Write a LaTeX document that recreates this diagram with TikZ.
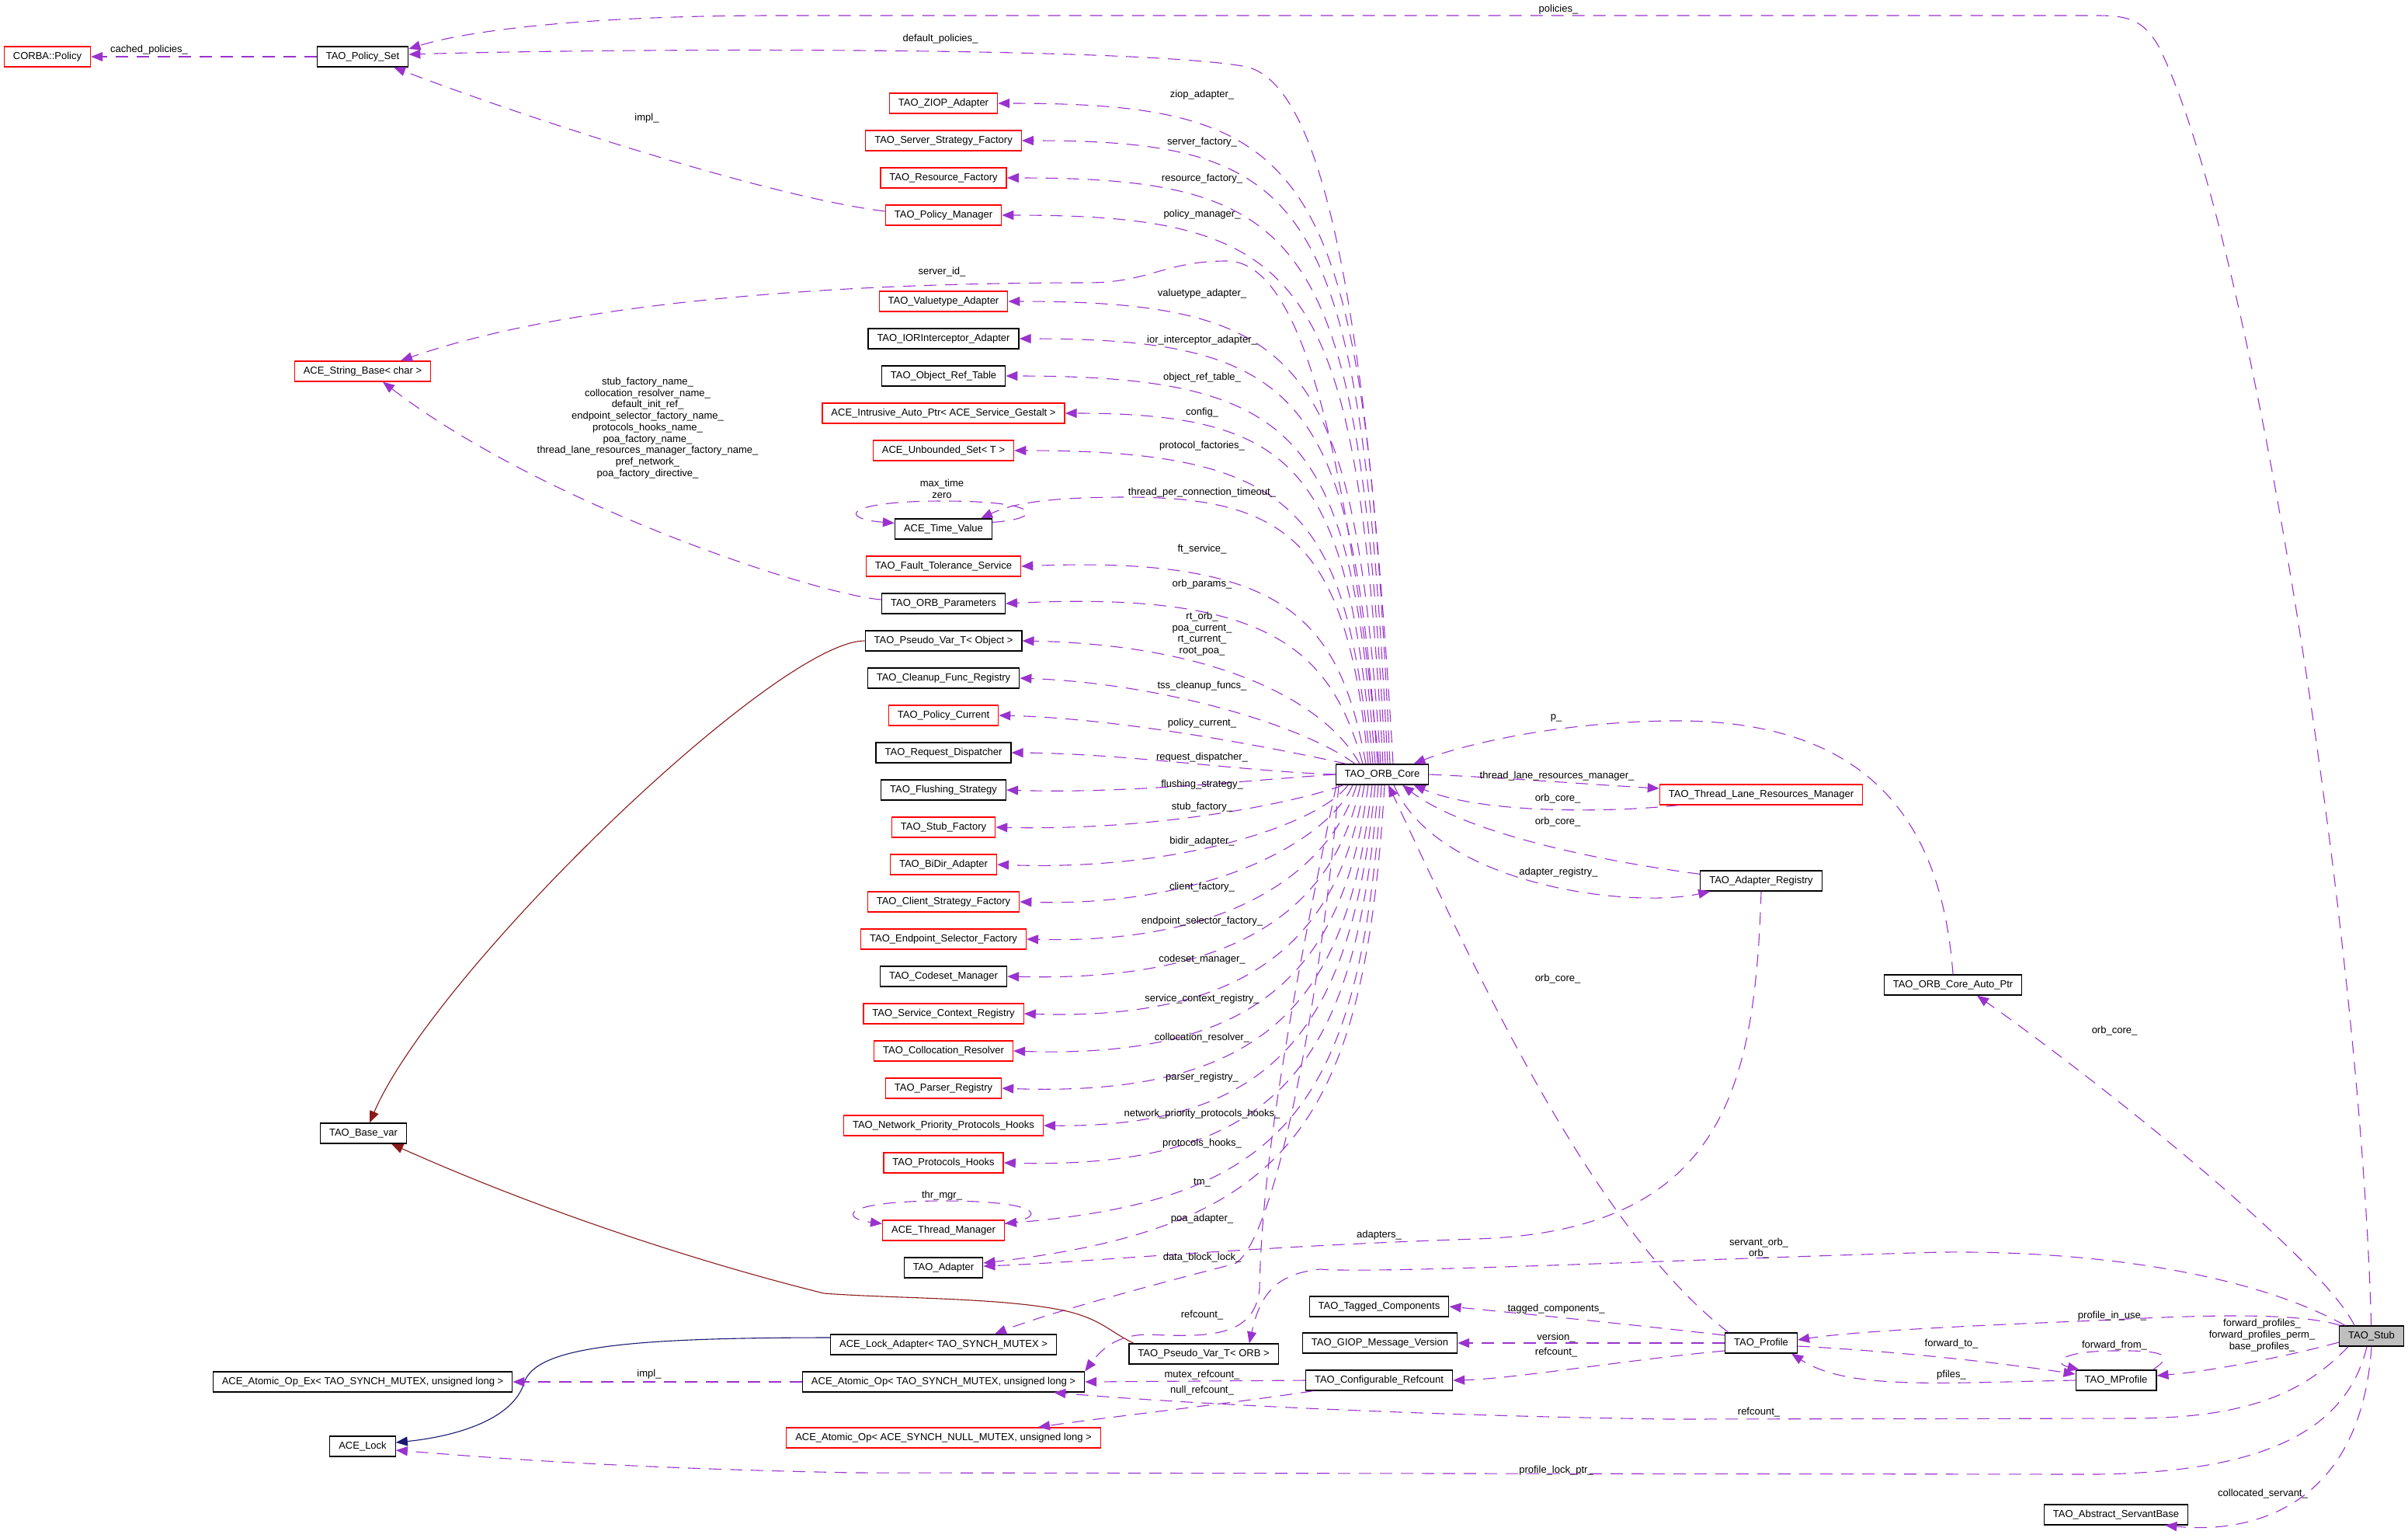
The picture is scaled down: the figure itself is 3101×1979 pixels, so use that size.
\documentclass[tikz,border=0pt]{standalone}
\usepackage{fontspec}
\setmainfont{Liberation Sans}
\usetikzlibrary{arrows.meta,calc}
\definecolor{pcol}{HTML}{9A32CD}
\definecolor{dred}{HTML}{8B1A1A}
\definecolor{dblue}{HTML}{191970}
\definecolor{stubgray}{HTML}{BFBFBF}
\newcommand\lab{\fontsize{13}{14.7}\selectfont}
\tikzset{
  box/.style={draw=black, line width=1.3pt, rectangle, minimum height=26pt, inner xsep=11.5pt, inner ysep=0pt, font=\lab},
  rbox/.style={box, draw=red},
  gbox/.style={box, fill=stubgray},
  use/.style={draw=pcol, line width=1.1pt, dash pattern=on 16pt off 11pt, -{Triangle[length=15pt,width=12pt,fill=pcol]}},
  inhr/.style={draw=dred, line width=1.1pt, -{Triangle[length=15pt,width=12pt,fill=dred]}},
  inhb/.style={draw=dblue, line width=1.1pt, -{Triangle[length=15pt,width=12pt,fill=dblue]}},
  lbl/.style={font=\lab, inner sep=0pt, align=center}
}
\begin{document}
\begin{tikzpicture}[x=1pt,y=-1pt]
\useasboundingbox (0,0) rectangle (3101,1979);
% ---------- nodes
\node[rbox] (cpol) at (61,73) {CORBA::Policy};
\node[box] (pset) at (467,73) {TAO\_Policy\_Set};
\node[rbox] (strb) at (467,478) {ACE\_String\_Base< char >};
\node[box] (bvar) at (468,1459) {TAO\_Base\_var};
\node[box] (aopex) at (467,1779) {ACE\_Atomic\_Op\_Ex< TAO\_SYNCH\_MUTEX, unsigned long >};
\node[box] (lock) at (467,1862) {ACE\_Lock};
\node[rbox] (ziop) at (1215,133) {TAO\_ZIOP\_Adapter};
\node[rbox] (ssf) at (1215,181) {TAO\_Server\_Strategy\_Factory};
\node[rbox] (resf) at (1215,229) {TAO\_Resource\_Factory};
\node[rbox] (pmgr) at (1215,277) {TAO\_Policy\_Manager};
\node[rbox] (vta) at (1215,388) {TAO\_Valuetype\_Adapter};
\node[box] (ior) at (1215,436) {TAO\_IORInterceptor\_Adapter};
\node[box] (ort) at (1215,484) {TAO\_Object\_Ref\_Table};
\node[rbox] (iap) at (1215,532) {ACE\_Intrusive\_Auto\_Ptr< ACE\_Service\_Gestalt >};
\node[rbox] (uset) at (1215,580) {ACE\_Unbounded\_Set< T >};
\node[box] (tv) at (1215,681) {ACE\_Time\_Value};
\node[rbox] (fts) at (1215,729) {TAO\_Fault\_Tolerance\_Service};
\node[box] (orbp) at (1215,777) {TAO\_ORB\_Parameters};
\node[box] (pvo) at (1215,825) {TAO\_Pseudo\_Var\_T< Object >};
\node[box] (cfr) at (1215,873) {TAO\_Cleanup\_Func\_Registry};
\node[rbox] (pcur) at (1215,921) {TAO\_Policy\_Current};
\node[box] (rdisp) at (1215,969) {TAO\_Request\_Dispatcher};
\node[box] (flush) at (1215,1017) {TAO\_Flushing\_Strategy};
\node[rbox] (stubf) at (1215,1065) {TAO\_Stub\_Factory};
\node[rbox] (bidir) at (1215,1113) {TAO\_BiDir\_Adapter};
\node[rbox] (csf) at (1215,1161) {TAO\_Client\_Strategy\_Factory};
\node[rbox] (esf) at (1215,1209) {TAO\_Endpoint\_Selector\_Factory};
\node[box] (codeset) at (1215,1257) {TAO\_Codeset\_Manager};
\node[rbox] (scr) at (1215,1305) {TAO\_Service\_Context\_Registry};
\node[rbox] (coll) at (1215,1353) {TAO\_Collocation\_Resolver};
\node[rbox] (parser) at (1215,1401) {TAO\_Parser\_Registry};
\node[rbox] (nph) at (1215,1449) {TAO\_Network\_Priority\_Protocols\_Hooks};
\node[rbox] (ph) at (1215,1497) {TAO\_Protocols\_Hooks};
\node[rbox] (thm) at (1215,1584) {ACE\_Thread\_Manager};
\node[box] (adapter) at (1215,1632) {TAO\_Adapter};
\node[box] (lad) at (1215,1731) {ACE\_Lock\_Adapter< TAO\_SYNCH\_MUTEX >};
\node[box] (aop) at (1215,1779) {ACE\_Atomic\_Op< TAO\_SYNCH\_MUTEX, unsigned long >};
\node[rbox] (aopn) at (1215,1851) {ACE\_Atomic\_Op< ACE\_SYNCH\_NULL\_MUTEX, unsigned long >};
\node[box] (pvorb) at (1550,1743) {TAO\_Pseudo\_Var\_T< ORB >};
\node[box] (tagged) at (1776,1682) {TAO\_Tagged\_Components};
\node[box] (giop) at (1777,1729) {TAO\_GIOP\_Message\_Version};
\node[box] (cref) at (1776,1777) {TAO\_Configurable\_Refcount};
\node[box] (core) at (1780,997) {TAO\_ORB\_Core};
\node[rbox] (tlrm) at (2268,1023) {TAO\_Thread\_Lane\_Resources\_Manager};
\node[box] (areg) at (2268,1134) {TAO\_Adapter\_Registry};
\node[box] (cap) at (2515,1268) {TAO\_ORB\_Core\_Auto\_Ptr};
\node[box] (profile) at (2268,1729) {TAO\_Profile};
\node[box] (mprof) at (2725,1777) {TAO\_MProfile};
\node[box] (asb) at (2725,1950) {TAO\_Abstract\_ServantBase};
\node[gbox] (stub) at (3054,1720) {TAO\_Stub};

% ---------- top-left
\draw[use] (pset) -- (cpol);
\draw[use] ($(core.north)+(14,0)$) .. controls (1760,400) and (1705,100) .. (1600,85) .. controls (1450,60) and (800,62) .. ($(pset.east)+(0,-3)$);
\draw[use] (stub) .. controls (3040,1200) and (2900,300) .. (2780,60) .. controls (2760,25) and (2740,20) .. (2700,20) -- (1000,20) .. controls (750,20) and (600,40) .. ($(pset.east)+(0,-10)$);
\draw[use] ($(pmgr.west)+(0,-5)$) .. controls (1000,255) and (700,160) .. ($(pset.south)+(40,0)$);
\draw[use] ($(core.north)+(-4,0)$) .. controls (1735,600) and (1680,336) .. (1580,336) .. controls (1500,336) and (1480,364) .. (1400,364) .. controls (1000,364) and (700,400) .. ($(strb.north)+(49,0)$);
\draw[use] ($(orbp.west)+(0,-5)$) .. controls (1050,765) and (700,650) .. ($(strb.south)+(26,0)$);

% ---------- upper fan
\draw[use] ($(core.north)+(10,0)$) .. controls (1755,213) and (1700,133) .. (ziop.east);
\draw[use] ($(core.north)+(7,0)$) .. controls (1752,261) and (1697,181) .. (ssf.east);
\draw[use] ($(core.north)+(4,0)$) .. controls (1749,309) and (1694,229) .. (resf.east);
\draw[use] ($(core.north)+(1,0)$) .. controls (1746,357) and (1691,277) .. (pmgr.east);
\draw[use] ($(core.north)+(-2,0)$) .. controls (1743,468) and (1688,388) .. (vta.east);
\draw[use] ($(core.north)+(-6,0)$) .. controls (1740,516) and (1685,436) .. (ior.east);
\draw[use] ($(core.north)+(-9,0)$) .. controls (1737,564) and (1682,484) .. (ort.east);
\draw[use] ($(core.north)+(-12,0)$) .. controls (1734,612) and (1679,532) .. (iap.east);
\draw[use] ($(core.north)+(-15,0)$) .. controls (1731,660) and (1676,580) .. (uset.east);
\draw[use] ($(core.north)+(-18,0)$) .. controls (1735,700) and (1660,640) .. (1450,640) .. controls (1340,640) and (1300,650) .. ($(tv.north east)+(-15,0)$);
\draw[use] ($(tv.north east)+(0,5)$) .. controls (1345,668) and (1345,645) .. (1215,645) .. controls (1085,645) and (1080,668) .. ($(tv.north west)+(0,6)$);
\draw[use] ($(core.north)+(-21,0)$) .. controls (1725,800) and (1660,715) .. (fts.east);
\draw[use] ($(core.north)+(-25,0)$) .. controls (1715,840) and (1640,760) .. (orbp.east);
\draw[use] ($(core.north)+(-29,0)$) .. controls (1705,900) and (1560,830) .. (pvo.east);
\draw[use] ($(core.north)+(-35,0)$) .. controls (1680,935) and (1500,880) .. (cfr.east);
\draw[use] ($(core.north)+(-46,0)$) .. controls (1650,965) and (1450,925) .. (pcur.east);
\draw[use] (core.west) .. controls (1600,993) and (1450,970) .. (rdisp.east);

% ---------- lower fan
\draw[use] (core.west) .. controls (1600,1005) and (1450,1022) .. (flush.east);
\draw[use] ($(core.south)+(-50,0)$) .. controls (1680,1030) and (1500,1070) .. (stubf.east);
\draw[use] ($(core.south)+(-44,0)$) .. controls (1700,1060) and (1520,1122) .. (bidir.east);
\draw[use] ($(core.south)+(-38,0)$) .. controls (1712,1080) and (1560,1168) .. (csf.east);
\draw[use] ($(core.south)+(-33,0)$) .. controls (1717,1110) and (1600,1216) .. (esf.east);
\draw[use] ($(core.south)+(-28,0)$) .. controls (1722,1150) and (1620,1265) .. (codeset.east);
\draw[use] ($(core.south)+(-23,0)$) .. controls (1727,1190) and (1630,1315) .. (scr.east);
\draw[use] ($(core.south)+(-18,0)$) .. controls (1732,1230) and (1640,1364) .. (coll.east);
\draw[use] ($(core.south)+(-13,0)$) .. controls (1737,1270) and (1650,1414) .. (parser.east);
\draw[use] ($(core.south)+(-9,0)$) .. controls (1742,1300) and (1660,1452) .. (nph.east);
\draw[use] ($(core.south)+(-5,0)$) .. controls (1747,1350) and (1665,1506) .. (ph.east);
\draw[use] ($(core.south)+(-1,0)$) .. controls (1752,1420) and (1660,1545) .. ($(thm.east)+(0,-9)$);
\draw[use] ($(thm.north east)+(0,5)$) .. controls (1350,1568) and (1345,1546) .. (1215,1546) .. controls (1085,1546) and (1080,1568) .. ($(thm.north west)+(0,5)$);
\draw[use] ($(core.south)+(3,0)$) .. controls (1757,1450) and (1660,1580) .. ($(adapter.east)+(0,-6)$);
\draw[use] ($(core.south)+(-56,0)$) .. controls (1700,1300) and (1640,1600) .. (1590,1627) .. controls (1500,1650) and (1350,1690) .. ($(lad.north)+(66,0)$);
\draw[use] ($(core.south)+(-59,0)$) .. controls (1660,1300) and (1625,1500) .. (1622,1660) .. controls (1615,1720) and (1560,1722) .. (1480,1718) .. controls (1440,1718) and (1420,1735) .. (aop.north east);

% ---------- inheritance
\draw[inhr] (pvo.west) .. controls (1000,825) and (560,1250) .. ($(bvar.north)+(8,0)$);
\draw[inhr] ($(pvorb.north west)+(7,0)$) .. controls (1430,1715) and (1420,1700) .. (1378,1689) .. controls (1300,1670) and (1150,1672) .. (1061,1665) .. controls (900,1625) and (700,1560) .. ($(bvar.south east)+(-20,0)$);
\draw[inhb] ($(lad.west)+(0,-9)$) .. controls (800,1722) and (690,1735) .. (675,1780) .. controls (660,1830) and (580,1850) .. ($(lock.east)+(0,-5)$);

% ---------- bottom middle
\draw[use] (aop.west) -- (aopex.east);
\draw[use] (cref.west) -- (aop.east);
\draw[use] ($(cref.south west)+(10,0)$) .. controls (1600,1805) and (1420,1825) .. ($(aopn.north)+(122,0)$);

% ---------- right side
\draw[use] (core.east) .. controls (1950,1002) and (2050,1010) .. ($(tlrm.west)+(0,-8)$);
\draw[use] ($(tlrm.south west)+(25,0)$) .. controls (2050,1048) and (1900,1045) .. ($(core.south east)+(-20,0)$);
\draw[use] ($(areg.north west)+(0,5)$) .. controls (2000,1100) and (1870,1060) .. ($(core.south)+(26,0)$);
\draw[use] ($(core.south)+(15,0)$) .. controls (1850,1140) and (2100,1170) .. ($(areg.south west)+(13,0)$);
\draw[use] ($(profile.north west)+(5,0)$) .. controls (2050,1580) and (1900,1250) .. ($(core.south)+(8,0)$);
\draw[use] (cap.north) .. controls (2500,1050) and (2400,925) .. (2150,928) .. controls (2000,930) and (1880,960) .. ($(core.north east)+(-20,0)$);
\draw[use] ($(stub.north west)+(20,0)$) .. controls (2990,1620) and (2700,1390) .. ($(cap.south)+(31,0)$);
\draw[use] (areg.south) .. controls (2260,1400) and (2220,1585) .. (1900,1595) .. controls (1600,1605) and (1400,1625) .. ($(adapter.east)+(0,-2)$);
\draw[use] ($(stub.north west)+(8,0)$) .. controls (2900,1640) and (2700,1610) .. (2500,1612) .. controls (2200,1620) and (1780,1640) .. (1700,1634) .. controls (1640,1640) and (1622,1670) .. ($(pvorb.north east)+(-38,0)$);
\draw[use] ($(stub.north west)+(2,0)$) .. controls (2960,1690) and (2850,1692) .. (2700,1700) .. controls (2500,1708) and (2380,1715) .. ($(profile.east)+(0,-4)$);
\draw[use] ($(stub.west)+(0,8)$) .. controls (2950,1745) and (2850,1765) .. ($(mprof.east)+(0,-6)$);
\draw[use] ($(mprof.north east)+(-5,0)$) .. controls (2800,1745) and (2790,1738) .. (2720,1739) .. controls (2650,1740) and (2645,1755) .. ($(mprof.north west)+(5,0)$);
\draw[use] ($(profile.east)+(0,4)$) .. controls (2450,1740) and (2580,1755) .. ($(mprof.west)+(0,-8)$);
\draw[use] (mprof.west) .. controls (2500,1780) and (2380,1790) .. ($(profile.south east)+(-8,0)$);
\draw[use] ($(stub.south west)+(12,0)$) .. controls (2970,1790) and (2900,1825) .. (2750,1826) -- (2150,1827) .. controls (1800,1822) and (1500,1805) .. ($(aop.south east)+(-40,0)$);
\draw[use] ($(stub.south)+(-6,0)$) .. controls (3020,1850) and (2900,1895) .. (2700,1898) -- (1100,1896) .. controls (800,1890) and (650,1878) .. ($(lock.east)+(0,5)$);
\draw[use] (stub.south) .. controls (3040,1940) and (2900,1975) .. ($(asb.south east)+(-30,0)$);
\draw[use] ($(profile.west)+(0,-10)$) .. controls (2100,1705) and (1950,1690) .. (tagged.east);
\draw[use] (profile.west) -- (giop.east);
\draw[use] ($(profile.west)+(0,10)$) .. controls (2100,1750) and (1950,1775) .. (cref.east);

% ---------- labels
\node[lbl] (t1) at (192,64) {cached\_policies\_};
\node[lbl] (t2) at (1211,50) {default\_policies\_};
\node[lbl] (t3) at (2007,12) {policies\_};
\node[lbl] (t4) at (833,152) {impl\_};
\node[lbl] (t5) at (1213,350) {server\_id\_};
\node[lbl] (t6) at (834,551) {stub\_factory\_name\_\\collocation\_resolver\_name\_\\default\_init\_ref\_\\endpoint\_selector\_factory\_name\_\\protocols\_hooks\_name\_\\poa\_factory\_name\_\\thread\_lane\_resources\_manager\_factory\_name\_\\pref\_network\_\\poa\_factory\_directive\_};
\node[lbl] (t7) at (1548,122) {ziop\_adapter\_};
\node[lbl] (t8) at (1548,183) {server\_factory\_};
\node[lbl] (t9) at (1548,230) {resource\_factory\_};
\node[lbl] (t10) at (1548,276) {policy\_manager\_};
\node[lbl] (t11) at (1548,378) {valuetype\_adapter\_};
\node[lbl] (t12) at (1548,438) {ior\_interceptor\_adapter\_};
\node[lbl] (t13) at (1548,486) {object\_ref\_table\_};
\node[lbl] (t14) at (1548,531) {config\_};
\node[lbl] (t15) at (1548,574) {protocol\_factories\_};
\node[lbl] (t16) at (1213,629) {max\_time\\zero};
\node[lbl] (t17) at (1548,634) {thread\_per\_connection\_timeout\_};
\node[lbl] (t18) at (1548,707) {ft\_service\_};
\node[lbl] (t19) at (1548,752) {orb\_params\_};
\node[lbl] (t20) at (1548,816) {rt\_orb\_\\poa\_current\_\\rt\_current\_\\root\_poa\_};
\node[lbl] (t21) at (1548,883) {tss\_cleanup\_funcs\_};
\node[lbl] (t22) at (1548,931) {policy\_current\_};
\node[lbl] (t23) at (1548,975) {request\_dispatcher\_};
\node[lbl] (t24) at (1548,1010) {flushing\_strategy\_};
\node[lbl] (t25) at (1548,1039) {stub\_factory\_};
\node[lbl] (t26) at (1548,1083) {bidir\_adapter\_};
\node[lbl] (t27) at (1548,1142) {client\_factory\_};
\node[lbl] (t28) at (1548,1186) {endpoint\_selector\_factory\_};
\node[lbl] (t29) at (1548,1235) {codeset\_manager\_};
\node[lbl] (t30) at (1548,1286) {service\_context\_registry\_};
\node[lbl] (t31) at (1548,1336) {collocation\_resolver\_};
\node[lbl] (t32) at (1548,1387) {parser\_registry\_};
\node[lbl] (t33) at (1548,1434) {network\_priority\_protocols\_hooks\_};
\node[lbl] (t34) at (1548,1472) {protocols\_hooks\_};
\node[lbl] (t35) at (1213,1539) {thr\_mgr\_};
\node[lbl] (t36) at (1548,1523) {tm\_};
\node[lbl] (t37) at (1548,1569) {poa\_adapter\_};
\node[lbl] (t38) at (1776,1590) {adapters\_};
\node[lbl] (t39) at (1548,1619) {data\_block\_lock\_};
\node[lbl] (t40) at (1548,1693) {refcount\_};
\node[lbl] (t41) at (1548,1770) {mutex\_refcount\_};
\node[lbl] (t42) at (1548,1790) {null\_refcount\_};
\node[lbl] (t43) at (836,1769) {impl\_};
\node[lbl] (t44) at (2004,924) {p\_};
\node[lbl] (t45) at (2005,999) {thread\_lane\_resources\_manager\_};
\node[lbl] (t46) at (2006,1028) {orb\_core\_};
\node[lbl] (t47) at (2006,1058) {orb\_core\_};
\node[lbl] (t48) at (2007,1123) {adapter\_registry\_};
\node[lbl] (t49) at (2006,1260) {orb\_core\_};
\node[lbl] (t50) at (2723,1327) {orb\_core\_};
\node[lbl] (t51) at (2265,1607) {servant\_orb\_\\orb\_};
\node[lbl] (t52) at (2004,1685) {tagged\_components\_};
\node[lbl] (t53) at (2004,1722) {version\_};
\node[lbl] (t54) at (2004,1741) {refcount\_};
\node[lbl] (t55) at (2720,1694) {profile\_in\_use\_};
\node[lbl] (t56) at (2913,1719) {forward\_profiles\_\\forward\_profiles\_perm\_\\base\_profiles\_};
\node[lbl] (t57) at (2513,1730) {forward\_to\_};
\node[lbl] (t58) at (2723,1732) {forward\_from\_};
\node[lbl] (t59) at (2513,1770) {pfiles\_};
\node[lbl] (t60) at (2265,1818) {refcount\_};
\node[lbl] (t61) at (2004,1893) {profile\_lock\_ptr\_};
\node[lbl] (t62) at (2914,1923) {collocated\_servant\_};
\end{tikzpicture}
\end{document}
